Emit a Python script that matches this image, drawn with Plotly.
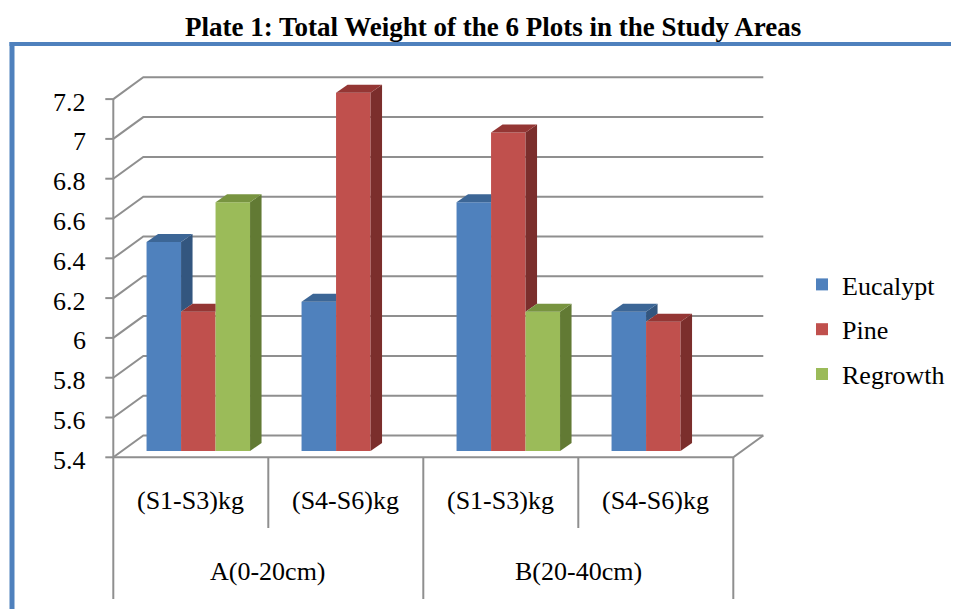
import plotly.graph_objects as go

# ---------------- data ----------------
sub_labels = ["(S1-S3)kg", "(S4-S6)kg", "(S1-S3)kg", "(S4-S6)kg"]
group_labels = ["A(0-20cm)", "B(20-40cm)"]
series_names = ["Eucalypt", "Pine", "Regrowth"]
eucalypt = [6.45, 6.15, 6.65, 6.10]
pine = [6.10, 7.20, 7.00, 6.05]
regrowth = [6.65, None, 6.10, None]
tick_vals = [5.4, 5.6, 5.8, 6.0, 6.2, 6.4, 6.6, 6.8, 7.0, 7.2]
tick_text = ["5.4", "5.6", "5.8", "6", "6.2", "6.4", "6.6", "6.8", "7", "7.2"]
title_text = "Plate 1: Total Weight of the 6 Plots in the Study Areas"

# ---------------- style / geometry ----------------
W, H = 959, 609
PAGE_OFF = 8            # browser body margin: page pixel = figure pixel + 8
BASE = 5.4
PX_X = 155.0   # pixels per category
PX_Y = 199.0   # pixels per value unit
X0_PX = 120.8 - PAGE_OFF  # figure pixel of x = -0.5 (bar plane)
Y0_PX = 451.0 - PAGE_OFF  # figure pixel of y = BASE (bar plane)
x_range = [-0.5 - X0_PX / PX_X, -0.5 + (W - X0_PX) / PX_X]
y_range = [BASE - (H - Y0_PX) / PX_Y, BASE + Y0_PX / PX_Y]


def ux(p):
    return p / PX_X


def uy(p):
    return p / PX_Y


def px_x(p):  # page pixel -> paper x
    return (p - PAGE_OFF) / W


def px_y(p):  # page pixel -> paper y
    return 1 - (p - PAGE_OFF) / H


DEPTH = (11.5, 8.0)     # 3D depth of each bar (px right, px up)
FRONT = (-7.5, -6.3)    # front plane offset from bar plane
BACK = (22.5, 15.5)     # back wall offset from bar plane
BAR_W = 0.2226
offsets = [-1.5 * BAR_W, -0.5 * BAR_W, 0.5 * BAR_W]
front_cols = ["#4F81BD", "#C0504D", "#9BBB59"]
top_cols = ["#3C6696", "#943634", "#789440"]
side_cols = ["#33567F", "#7B2E2C", "#627A34"]
GRID_COL = "#8f8f8f"
FONT = "Liberation Serif, Times New Roman, serif"
FRAME_COL = "#4F81BD"

series_vals = [eucalypt, pine, regrowth]
n_cat = len(sub_labels)
positions = list(range(n_cat))

fig = go.Figure()

for s, name in enumerate(series_names):
    vals = series_vals[s]
    fig.add_trace(go.Bar(
        name=name,
        x=positions,
        y=[None if v is None else v - BASE for v in vals],
        base=BASE,
        customdata=[[sub_labels[i], v] for i, v in enumerate(vals)],
        hovertemplate="%{customdata[0]}: %{customdata[1]}<extra>" + name + "</extra>",
        offset=offsets[s],
        width=BAR_W,
        marker=dict(color=front_cols[s], line=dict(width=0)),
        legendgroup=name,
    ))

shapes = []


def path(points, close=True):
    d = "M " + " L ".join(f"{x:.5f},{y:.5f}" for x, y in points)
    return d + (" Z" if close else "")


# back wall gridlines with connectors to the front axis
xl_edge = -0.5
xr_edge = n_cat - 0.5
for v in tick_vals:
    pts = [(xl_edge + ux(FRONT[0]), v + uy(FRONT[1])),
           (xl_edge + ux(BACK[0]), v + uy(BACK[1])),
           (xr_edge + ux(BACK[0]), v + uy(BACK[1]))]
    shapes.append(dict(type="path", path=path(pts, close=False), xref="x", yref="y",
                       line=dict(color=GRID_COL, width=2), layer="below"))
    # tick mark
    shapes.append(dict(type="line", xref="x", yref="y",
                       x0=xl_edge + ux(FRONT[0] - 8), x1=xl_edge + ux(FRONT[0]),
                       y0=v + uy(FRONT[1]), y1=v + uy(FRONT[1]),
                       line=dict(color=GRID_COL, width=2), layer="below"))

# front vertical axis
shapes.append(dict(type="line", xref="x", yref="y",
                   x0=xl_edge + ux(FRONT[0]), x1=xl_edge + ux(FRONT[0]),
                   y0=tick_vals[0] + uy(FRONT[1]), y1=tick_vals[-1] + uy(FRONT[1]),
                   line=dict(color=GRID_COL, width=2), layer="below"))
# floor front edge + right side
floor = [(xl_edge + ux(FRONT[0]), BASE + uy(FRONT[1])),
         (xr_edge + ux(FRONT[0]), BASE + uy(FRONT[1])),
         (xr_edge + ux(BACK[0]), BASE + uy(BACK[1]))]
shapes.append(dict(type="path", path=path(floor, close=False), xref="x", yref="y",
                   line=dict(color=GRID_COL, width=2), layer="below"))
# category separators
for k in range(n_cat + 1):
    length = 141.7 if k % 2 == 0 else 70.7
    xk = xl_edge + k + ux(FRONT[0])
    shapes.append(dict(type="line", xref="x", yref="y", x0=xk, x1=xk,
                       y0=BASE + uy(FRONT[1]), y1=BASE + uy(FRONT[1] - length),
                       line=dict(color=GRID_COL, width=2), layer="below"))

# 3D faces of bars
ddx, ddy = ux(DEPTH[0]), uy(DEPTH[1])
for i in positions:
    for s in range(len(series_names)):
        v = series_vals[s][i]
        if v is None:
            continue
        nv = series_vals[s + 1][i] if s + 1 < len(series_names) else None
        xl = i + offsets[s]
        xr = xl + BAR_W
        lo = BASE if nv is None else nv
        if nv is None or nv < v:
            side = [(xr, lo), (xr, v), (xr + ddx, v + ddy), (xr + ddx, lo + ddy)]
            shapes.append(dict(type="path", path=path(side), xref="x", yref="y",
                               fillcolor=side_cols[s], line=dict(width=0), layer="above"))
        if nv is not None and nv > v:
            top = [(xl, v), (xr, v), (xr, v + ddy), (xl + ddx, v + ddy)]
        else:
            top = [(xl, v), (xr, v), (xr + ddx, v + ddy), (xl + ddx, v + ddy)]
        shapes.append(dict(type="path", path=path(top), xref="x", yref="y",
                           fillcolor=top_cols[s], line=dict(width=0), layer="above"))

# outer frame (blue)
shapes.append(dict(type="line", xref="paper", yref="paper",
                   x0=px_x(12), x1=px_x(12), y0=0, y1=px_y(42),
                   line=dict(color=FRAME_COL, width=5)))
shapes.append(dict(type="line", xref="paper", yref="paper",
                   x0=px_x(9.5), x1=1, y0=px_y(44), y1=px_y(44),
                   line=dict(color=FRAME_COL, width=4)))

annotations = []
# y tick labels
for v, t in zip(tick_vals, tick_text):
    annotations.append(dict(x=xl_edge + ux(FRONT[0]), y=v + uy(FRONT[1]), xref="x", yref="y",
                            text=t, showarrow=False, xanchor="right", yanchor="middle",
                            xshift=-25, yshift=-3,
                            font=dict(family=FONT, size=26, color="black")))
# category labels
for i, lab in enumerate(sub_labels):
    annotations.append(dict(x=i + ux(FRONT[0]), y=BASE + uy(FRONT[1]), xref="x", yref="y",
                            text=lab, showarrow=False, xanchor="center", yanchor="middle",
                            yshift=-42.7,
                            font=dict(family=FONT, size=26, color="black")))
for g, lab in enumerate(group_labels):
    annotations.append(dict(x=2 * g + 0.5 + ux(FRONT[0]), y=BASE + uy(FRONT[1]), xref="x", yref="y",
                            text=lab, showarrow=False, xanchor="center", yanchor="middle",
                            yshift=-113.7,
                            font=dict(family=FONT, size=26, color="black")))
# title
annotations.append(dict(x=px_x(492.5), y=px_y(27), xref="paper", yref="paper",
                        text="<b>" + title_text + "</b>", showarrow=False,
                        xanchor="center", yanchor="middle",
                        font=dict(family=FONT, size=27, color="black")))

fig.update_layout(
    width=W, height=H,
    margin=dict(l=0, r=0, t=0, b=0),
    paper_bgcolor="white", plot_bgcolor="white",
    barmode="overlay",
    showlegend=True,
    legend=dict(x=px_x(802), y=px_y(261), xanchor="left", yanchor="top",
                traceorder="grouped", tracegroupgap=8,
                font=dict(family=FONT, size=26, color="black"),
                bgcolor="rgba(0,0,0,0)", borderwidth=0),
    xaxis=dict(range=x_range, visible=False, fixedrange=True),
    yaxis=dict(range=y_range, visible=False, fixedrange=True),
    shapes=shapes,
    annotations=annotations,
)

fig.write_html("out.html")
